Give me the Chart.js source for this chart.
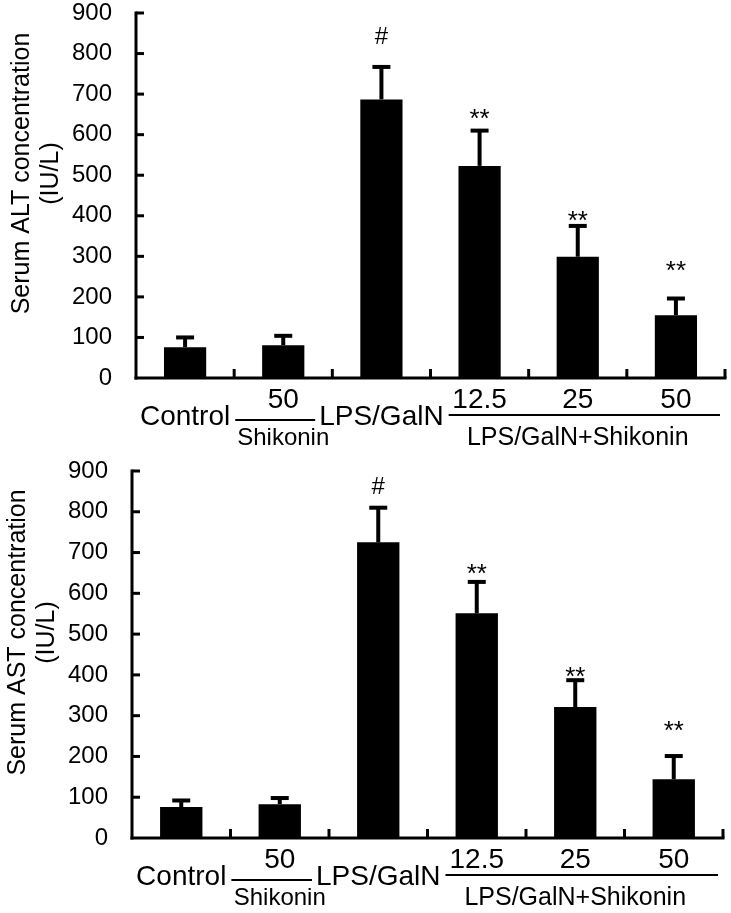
<!DOCTYPE html>
<html>
<head>
<meta charset="utf-8">
<script src="https://cdn.jsdelivr.net/npm/chart.js@4.4.0/dist/chart.umd.min.js"></script>
<style>
  body { margin: 0; background: #fff; }
  #wrap { position: relative; width: 731px; height: 913px; }
  canvas { position: absolute; left: 0; }
</style>
</head>
<body>
<div id="wrap">
  <canvas id="alt" width="731" height="456" style="top:0"></canvas>
  <canvas id="ast" width="731" height="457" style="top:456px"></canvas>
</div>
<script>
// groups along the x axis
var categories = ['Control', 'Shikonin 50', 'LPS/GalN', 'LPS/GalN+Shikonin 12.5', 'LPS/GalN+Shikonin 25', 'LPS/GalN+Shikonin 50'];
var groupLabels = ['Control', '', 'LPS/GalN', '', '', ''];
var doseLabels = ['', '50', '', '12.5', '25', '50'];
var brackets = [
  {label: 'Shikonin', from: 1, to: 1},
  {label: 'LPS/GalN+Shikonin', from: 3, to: 5}
];

// serum ALT (IU/L)
var altMean = [76, 81, 687, 523, 299, 155];
var altErr = [24, 23, 80, 87, 76, 41];
// serum AST (IU/L)
var astMean = [76, 83, 725, 551, 321, 144];
var astErr = [16, 15, 85, 77, 66, 57];

// significance marks, and the value height where each one sits
var marks = ['', '', '#', '**', '**', '**'];
var altMarkAt = [null, null, 843, 656, 404, 281];
var astMarkAt = [null, null, 862, 665, 412, 280];

var yMin = 0, yMax = 900, yStep = 100;

var FONT = "'Liberation Sans', Arial, sans-serif";

function font(size) {
  return size + 'px ' + FONT;
}

var figurePlugin = {
  id: 'figure',
  afterDatasetsDraw: function(chart) {
    var o = chart.options.plugins.figure;
    var ctx = chart.ctx, a = chart.chartArea;
    var xs = chart.scales.x, ys = chart.scales.y;
    var meta = chart.getDatasetMeta(0);
    var y0 = ys.getPixelForValue(yMin);
    var n = categories.length;

    ctx.save();
    ctx.fillStyle = '#000';
    ctx.strokeStyle = '#000';

    // error bars (upper half only)
    for (var i = 0; i < n; i++) {
      var bx = meta.data[i].x;
      var yb = ys.getPixelForValue(o.mean[i]);
      var yt = ys.getPixelForValue(o.mean[i] + o.err[i]);
      ctx.lineWidth = 4;
      ctx.beginPath();
      ctx.moveTo(bx, yb);
      ctx.lineTo(bx, yt);
      ctx.stroke();
      ctx.beginPath();
      ctx.moveTo(bx - 9, yt);
      ctx.lineTo(bx + 9, yt);
      ctx.stroke();
    }

    // significance marks
    ctx.textAlign = 'center';
    ctx.textBaseline = 'alphabetic';
    for (var i = 0; i < n; i++) {
      if (!marks[i]) continue;
      var my = ys.getPixelForValue(o.markAt[i]);
      if (marks[i] == '#') {
        ctx.font = font(24);
        ctx.fillText(marks[i], meta.data[i].x, my + 8);
      } else {
        ctx.font = font(26);
        ctx.fillText(marks[i], meta.data[i].x, my + 15);
      }
    }

    // axes
    ctx.lineWidth = 3;
    ctx.beginPath();
    ctx.moveTo(a.left, y0 + 1.5);
    ctx.lineTo(a.left, ys.getPixelForValue(yMax) - 1.5);
    ctx.stroke();
    ctx.beginPath();
    ctx.moveTo(a.left - 1.5, y0);
    ctx.lineTo(a.right + 1.5, y0);
    ctx.stroke();

    // inward ticks on the y axis
    for (var v = yMin + yStep; v <= yMax; v += yStep) {
      var ty = ys.getPixelForValue(v);
      ctx.beginPath();
      ctx.moveTo(a.left, ty);
      ctx.lineTo(a.left + 8, ty);
      ctx.stroke();
    }

    // inward ticks between groups on the x axis
    var bounds = [a.left];
    for (var i = 0; i < n - 1; i++) {
      bounds.push((xs.getPixelForValue(i) + xs.getPixelForValue(i + 1)) / 2);
    }
    bounds.push(a.right);
    for (var i = 1; i < bounds.length; i++) {
      ctx.beginPath();
      ctx.moveTo(bounds[i], y0);
      ctx.lineTo(bounds[i], y0 - 9);
      ctx.stroke();
    }

    // category labels
    var labelRight = [], labelLeft = [];
    ctx.font = font(28);
    for (var i = 0; i < n; i++) {
      var cx = xs.getPixelForValue(i);
      if (groupLabels[i]) {
        var w = ctx.measureText(groupLabels[i]).width;
        ctx.textBaseline = 'alphabetic';
        ctx.fillText(groupLabels[i], cx, y0 + 47);
        labelLeft[i] = cx - w / 2;
        labelRight[i] = cx + w / 2;
      }
      if (doseLabels[i]) {
        ctx.textBaseline = 'middle';
        ctx.fillText(doseLabels[i], cx, y0 + 22);
      }
    }

    // brackets under the doses
    ctx.lineWidth = 2;
    ctx.textBaseline = 'alphabetic';
    brackets.forEach(function(b) {
      var x1 = labelRight[b.from - 1] + 5;
      var x2 = b.to + 1 < n ? labelLeft[b.to + 1] - 4 : a.right - 5;
      var ly = y0 + (b.from == b.to ? 42 : 37);
      ctx.beginPath();
      ctx.moveTo(x1, ly);
      ctx.lineTo(x2, ly);
      ctx.stroke();
      var cx = (xs.getPixelForValue(b.from) + xs.getPixelForValue(b.to)) / 2;
      ctx.font = font(b.from == b.to ? 24 : 25);
      ctx.fillText(b.label, cx, y0 + 67);
    });

    // y axis title, two lines
    var tcy = (a.top + a.bottom) / 2 - 22;
    ctx.font = font(25);
    o.title.forEach(function(line, k) {
      ctx.save();
      ctx.translate(a.left - 107 + k * 29, tcy);
      ctx.rotate(-Math.PI / 2);
      ctx.textAlign = 'center';
      ctx.textBaseline = 'alphabetic';
      ctx.fillText(line, 0, 0);
      ctx.restore();
    });

    ctx.restore();
  }
};

function makeChart(id, mean, err, markAt, title, area) {
  var canvas = document.getElementById(id);
  return new Chart(canvas, {
    type: 'bar',
    data: {
      labels: categories,
      datasets: [{
        data: mean,
        backgroundColor: '#000',
        borderWidth: 0,
        barPercentage: 0.43,
        categoryPercentage: 1
      }]
    },
    options: {
      responsive: false,
      animation: false,
      devicePixelRatio: 1,
      layout: {
        autoPadding: false,
        padding: {
          left: 0,
          top: area.top,
          right: canvas.width - area.right,
          bottom: canvas.height - area.bottom
        }
      },
      plugins: {
        legend: {display: false},
        tooltip: {enabled: false},
        figure: {mean: mean, err: err, markAt: markAt, title: title}
      },
      scales: {
        x: {
          grid: {display: false, drawTicks: false},
          border: {display: false},
          ticks: {display: false},
          afterFit: function(s) { s.height = 0; }
        },
        y: {
          min: yMin,
          max: yMax,
          // tick marks are drawn by the plugin; tickLength only spaces the labels
          grid: {display: false, drawTicks: true, tickLength: 24},
          border: {display: false},
          ticks: {
            stepSize: yStep,
            padding: 0,
            color: '#000',
            font: {family: FONT, size: 24, lineHeight: 1}
          },
          afterFit: function(s) { s.width = area.left; }
        }
      }
    },
    plugins: [figurePlugin]
  });
}

makeChart('alt', altMean, altErr, altMarkAt, ['Serum ALT concentration', '(IU/L)'],
  {left: 136, top: 13, right: 725, bottom: 378});
makeChart('ast', astMean, astErr, astMarkAt, ['Serum AST concentration', '(IU/L)'],
  {left: 132, top: 15, right: 723, bottom: 382});
</script>
</body>
</html>
